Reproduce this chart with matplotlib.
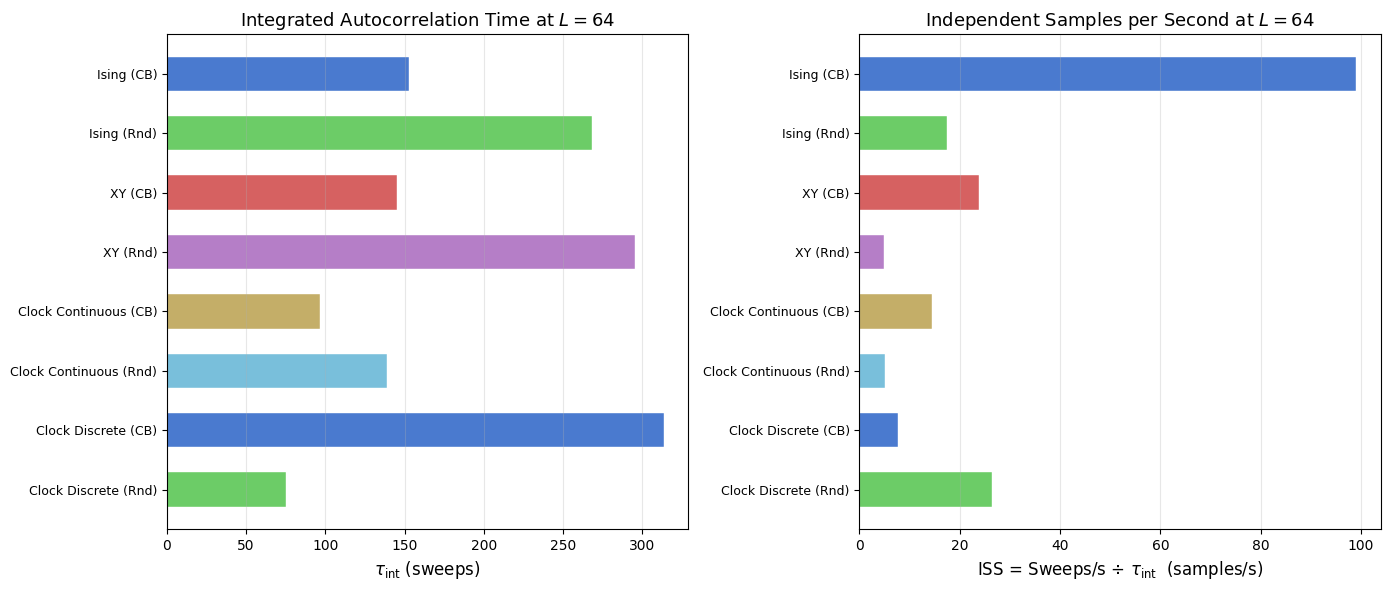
import matplotlib
matplotlib.use("Agg")
import matplotlib.pyplot as plt
import numpy as np

# Datos
metodos = ["Ising (CB)", "Ising (Rnd)", "XY (CB)", "XY (Rnd)",
           "Clock Continuous (CB)", "Clock Continuous (Rnd)",
           "Clock Discrete (CB)", "Clock Discrete (Rnd)"]
tau_int = [152.8, 268.5, 145.1, 295.7, 96.9, 138.9, 313.5, 74.9]
iss = [99.0, 17.4, 23.8, 4.85, 14.4, 5.06, 7.65, 26.4]

# Paleta "muted6" de seaborn
paleta = ["#4878CF", "#6ACC65", "#D65F5F", "#B47CC7", "#C4AD66", "#77BEDB"]
colores = [paleta[i % len(paleta)] for i in range(len(metodos))]

fig, (ax1, ax2) = plt.subplots(1, 2, figsize=(13.89, 5.9), dpi=100)
fig.subplots_adjust(left=0.1202, right=0.9941, top=0.9424, bottom=0.1028,
                    wspace=0.328)

y = np.arange(len(metodos))

ax1.barh(y, tau_int, height=0.58, color=colores, alpha=0.99,
         edgecolor="white", linewidth=0.3)
ax1.set_yticks(y)
ax1.set_yticklabels(metodos, fontsize=9)
ax1.invert_yaxis()
ax1.set_xlabel(r"$\tau_{\rm int}$ (sweeps)", fontsize=12)
ax1.set_title(r"Integrated Autocorrelation Time at $L = 64$", fontsize=13)
ax1.grid(axis="x", alpha=0.3)

ax2.barh(y, iss, height=0.58, color=colores, alpha=0.99,
         edgecolor="white", linewidth=0.3)
ax2.set_yticks(y)
ax2.set_yticklabels(metodos, fontsize=9)
ax2.invert_yaxis()
ax2.set_xlabel(r"ISS = Sweeps/s $\div$ $\tau_{\rm int}$  (samples/s)", fontsize=12)
ax2.set_title(r"Independent Samples per Second at $L = 64$", fontsize=13)
ax2.grid(axis="x", alpha=0.3)

plt.savefig("out.png", dpi=100)
